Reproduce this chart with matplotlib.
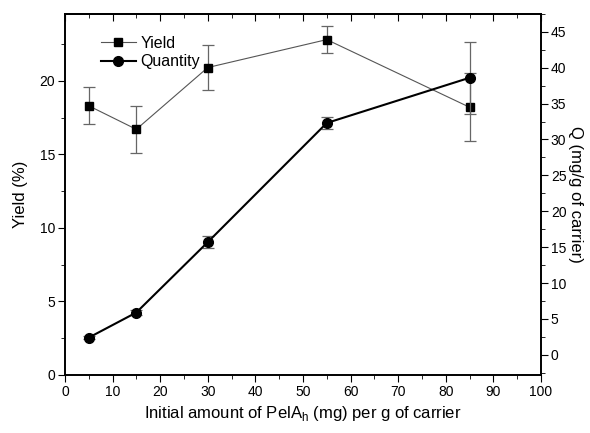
import matplotlib
matplotlib.use("Agg")
import matplotlib.pyplot as plt
from matplotlib.ticker import MultipleLocator
from matplotlib.lines import Line2D

plt.rcParams['font.family'] = ['Liberation Sans', 'DejaVu Sans']

x = [5, 15, 30, 55, 85]
yield_pct = [18.3, 16.7, 20.9, 22.8, 18.2]
yield_err = [1.25, 1.6, 1.5, 0.9, 2.3]
quantity = [2.4, 5.9, 15.7, 32.3, 38.6]
quantity_err = [0.2, 0.3, 0.8, 0.8, 5.0]

fig = plt.figure(figsize=(5.9, 4.33), dpi=100)
ax = fig.add_axes([0.110, 0.134, 0.807, 0.834])
ax2 = ax.twinx()

ax.errorbar(x, yield_pct, yerr=yield_err, color='#555555', lw=0.8, marker='s',
            ms=6, mfc='black', mec='black', ecolor='#666666', elinewidth=0.9,
            capsize=4, capthick=0.9, zorder=3)
ax2.errorbar(x, quantity, yerr=quantity_err, color='black', lw=1.5, marker='o',
             ms=7, mfc='black', mec='black', ecolor='#666666', elinewidth=0.9,
             capsize=4, capthick=0.9, zorder=3)

ax.set_xlim(0, 100)
ax.set_ylim(0, 24.55)
ax2.set_ylim(-2.8, 47.5)

ax.xaxis.set_major_locator(MultipleLocator(10))
ax.xaxis.set_minor_locator(MultipleLocator(5))
ax.yaxis.set_major_locator(MultipleLocator(5))
ax.yaxis.set_minor_locator(MultipleLocator(2.5))
ax2.yaxis.set_major_locator(MultipleLocator(5))
ax2.yaxis.set_minor_locator(MultipleLocator(2.5))

ax.tick_params(axis='x', which='major', direction='out', length=5, labelsize=10, pad=2)
ax.tick_params(axis='x', which='minor', direction='out', length=3)
ax.tick_params(axis='y', which='major', direction='out', length=5, labelsize=10, pad=2)
ax.tick_params(axis='y', which='minor', direction='out', length=3)
ax2.tick_params(axis='y', which='major', direction='out', length=5, labelsize=10, pad=2)
ax2.tick_params(axis='y', which='minor', direction='out', length=3)

top = ax.secondary_xaxis('top')
top.xaxis.set_major_locator(MultipleLocator(10))
top.xaxis.set_minor_locator(MultipleLocator(5))
top.tick_params(axis='x', which='major', direction='in', length=5, labeltop=False)
top.tick_params(axis='x', which='minor', direction='in', length=3)

for a in (ax, ax2, top):
    for s in a.spines.values():
        s.set_linewidth(1.2)

ax.set_xlabel('Initial amount of PelA$_\\mathregular{h}$ (mg) per g of carrier', fontsize=12, labelpad=4)
ax.set_ylabel('Yield (%)', fontsize=12, labelpad=8)
ax2.set_ylabel('Q (mg/g of carrier)', fontsize=12, rotation=270, labelpad=12)

handles = [
    Line2D([], [], color='#555555', lw=0.8, marker='s', ms=6, mfc='black', mec='black'),
    Line2D([], [], color='black', lw=1.5, marker='o', ms=7, mfc='black', mec='black'),
]
ax.legend(handles, ['Yield', 'Quantity'], loc='upper left', bbox_to_anchor=(0.055, 0.965),
          frameon=False, fontsize=11.5, handlelength=2.2, handletextpad=0.3,
          labelspacing=0.2, borderaxespad=0.2)

fig.savefig('out.png', dpi=100)
